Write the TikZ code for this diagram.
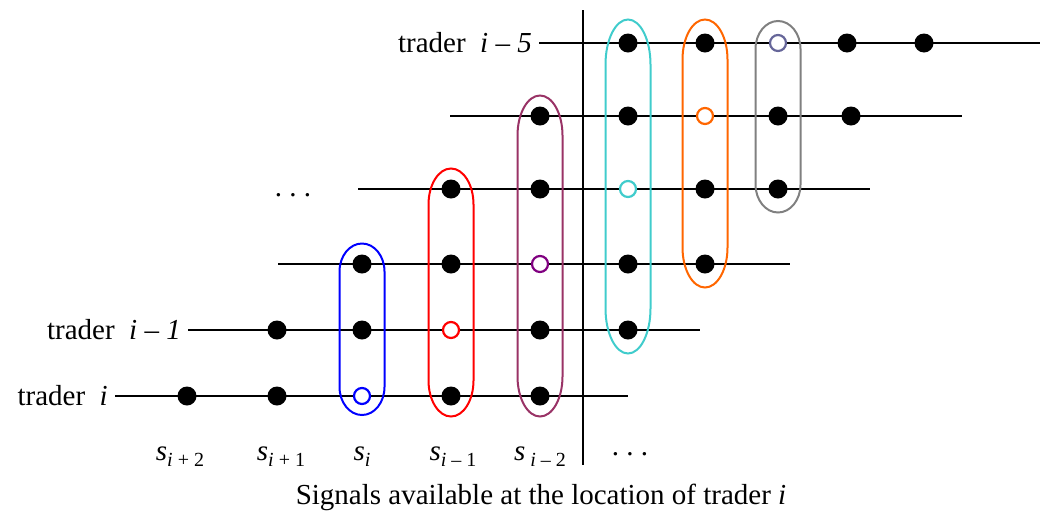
\documentclass[tikz,border=0pt]{standalone}
\usepackage{fontspec}
\setmainfont{Liberation Serif}
\usepackage{tikz}
\usetikzlibrary{fit}
\definecolor{plum}{RGB}{153,51,102}
\definecolor{purp}{RGB}{128,0,128}
\definecolor{aqua}{RGB}{64,204,204}
\definecolor{orng}{RGB}{255,102,0}
\definecolor{slate}{RGB}{102,102,153}
\newcommand{\sig}[1]{\textit{s}\raisebox{-6pt}{\fontsize{20}{22}\selectfont #1}}
\newcommand{\pill}[3]{\draw[#2, line width=2pt] ([yshift=-#3]#1.north west) arc[start angle=180, end angle=0, x radius=22.5pt, y radius=#3] -- ([yshift=#3]#1.south east) arc[start angle=0, end angle=-180, x radius=22.5pt, y radius=#3] -- cycle;}

\begin{document}
\begin{tikzpicture}[x=1pt, y=-1pt, font=\fontsize{29}{32}\selectfont, line width=2.5pt, dot/.style = {circle, fill=black, inner sep=0pt, outer sep=0pt, minimum size=19pt}, hollow/.style = {circle, draw, fill=white, line width=2.2pt, inner sep=0pt, outer sep=0pt, minimum size=16pt}, group/.style = {inner xsep=13pt, inner ysep=11pt, outer sep=0pt}, tall/.style = {group, inner ysep=14pt}]
                \useasboundingbox (0,0) rectangle (1040,515);
                \coordinate (r0s) at (115,396);
                \coordinate (r0e) at (628,396);
                \coordinate (r1s) at (188,330);
                \coordinate (r1e) at (700,330);
                \coordinate (r2s) at (278,264);
                \coordinate (r2e) at (790,264);
                \coordinate (r3s) at (358,189);
                \coordinate (r3e) at (870,189);
                \coordinate (r4s) at (450,116);
                \coordinate (r4e) at (962,116);
                \coordinate (r5s) at (539,43);
                \coordinate (r5e) at (1040,43);
                \coordinate (vtop) at (583,10);
                \coordinate (vbot) at (583,465);
                \draw (r0s) -- (r0e);
                \draw (r1s) -- (r1e);
                \draw (r2s) -- (r2e);
                \draw (r3s) -- (r3e);
                \draw (r4s) -- (r4e);
                \draw (r5s) -- (r5e);
                \draw (vtop) -- (vbot);
                \node[dot] (d00) at (187,396) {};
                \node[dot] (d01) at (277,396) {};
                \node[hollow, draw=blue] (d02) at (362,396) {};
                \node[dot] (d03) at (451,396) {};
                \node[dot] (d04) at (540,396) {};
                \node[dot] (d11) at (277,330) {};
                \node[dot] (d12) at (362,330) {};
                \node[hollow, draw=red] (d13) at (451,330) {};
                \node[dot] (d14) at (540,330) {};
                \node[dot] (d15) at (628,330) {};
                \node[dot] (d22) at (362,264) {};
                \node[dot] (d23) at (451,264) {};
                \node[hollow, draw=purp] (d24) at (540,264) {};
                \node[dot] (d25) at (628,264) {};
                \node[dot] (d26) at (705,264) {};
                \node[dot] (d33) at (451,189) {};
                \node[dot] (d34) at (540,189) {};
                \node[hollow, draw=aqua] (d35) at (628,189) {};
                \node[dot] (d36) at (705,189) {};
                \node[dot] (d37) at (778,189) {};
                \node[dot] (d44) at (540,116) {};
                \node[dot] (d45) at (628,116) {};
                \node[hollow, draw=orng] (d46) at (705,116) {};
                \node[dot] (d47) at (778,116) {};
                \node[dot] (d48) at (851,116) {};
                \node[dot] (d55) at (628,43) {};
                \node[dot] (d56) at (705,43) {};
                \node[hollow, draw=slate] (d57) at (778,43) {};
                \node[dot] (d58) at (847,43) {};
                \node[dot] (d59) at (924,43) {};
                \node[group, fit=(d02)(d22)] (o2) {};
                \node[group, fit=(d03)(d33)] (o3) {};
                \node[group, fit=(d04)(d44)] (o4) {};
                \node[tall, fit=(d15)(d55)] (o5) {};
                \node[tall, fit=(d26)(d56)] (o6) {};
                \node[tall, fit=(d37)(d57)] (o7) {};
                \pill{o2}{blue}{28pt}
                \pill{o3}{red}{36pt}
                \pill{o4}{plum}{40pt}
                \pill{o5}{aqua}{45pt}
                \pill{o6}{orng}{40pt}
                \pill{o7}{gray}{28pt}
                \node[anchor=east, inner sep=6pt] (t0) at (r0s) {trader\ \ \textit{i}};
                \node[anchor=east, inner sep=6pt] (t1) at (r1s) {trader\ \ \textit{i} – \textit{1}};
                \node[anchor=east, inner sep=6pt] (t5) at (r5s) {trader\ \ \textit{i} – \textit{5}};
                \node[anchor=base] (etc1) at (293,196) {.\ .\ .};
                \node[anchor=base] (etc2) at (630,455) {.\ .\ .};
                \node[anchor=base] (s0) at (180,460) {\sig{\textit{i} + 2}};
                \node[anchor=base] (s1) at (281,460) {\sig{\textit{i} + 1}};
                \node[anchor=base] (s2) at (362,460) {\sig{\textit{i}}};
                \node[anchor=base] (s3) at (453,460) {\sig{\textit{i} – 1}};
                \node[anchor=base] (s4) at (540,460) {\sig{\ \textit{i} – 2}};
                \node[anchor=base] (cap) at (541,504) {Signals available at the location of trader \textit{i}};
            \end{tikzpicture}
\end{document}
